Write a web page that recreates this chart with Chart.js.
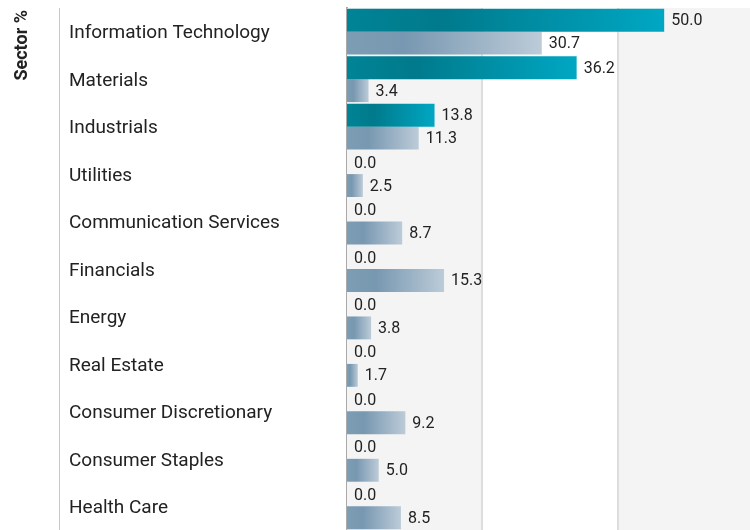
<!DOCTYPE html>
<html>
<head>
<meta charset="utf-8">
<script src="https://cdn.jsdelivr.net/npm/chart.js@4"></script>
<style>
  html, body { margin: 0; padding: 0; background: #fff; overflow: hidden; }
  #wrap { width: 753px; height: 530px; position: relative; }
</style>
</head>
<body>
<div id="wrap"><canvas id="chart"></canvas></div>
<script>
// Sector weights, fund vs benchmark
const sectors = [
    'Information Technology', 'Materials', 'Industrials', 'Utilities',
    'Communication Services', 'Financials', 'Energy', 'Real Estate',
    'Consumer Discretionary', 'Consumer Staples', 'Health Care'
];
const fundWeights = [50.0, 36.2, 13.8, 0.0, 0.0, 0.0, 0.0, 0.0, 0.0, 0.0, 0.0];
const benchWeights = [30.7, 3.4, 11.3, 2.5, 8.7, 15.3, 3.8, 1.7, 9.2, 5.0, 8.5];
const gridTicks = [0, 64 / 3, 128 / 3, 64];
const axisTitle = 'Sector %';

const textColor = '#222';

// gradient along the bar, from base to its end
function barGradient(stops) {
    return (c) => {
        const chart = c.chart;
        const fallback = stops[stops.length - 1][1];
        if (!chart.chartArea || !chart.scales.x) return fallback;
        const x0 = chart.scales.x.getPixelForValue(0);
        const x1 = chart.scales.x.getPixelForValue(c.raw);
        if (!(x1 > x0 + 1)) return fallback;
        const g = chart.ctx.createLinearGradient(x0, 0, x1, 0);
        stops.forEach(s => g.addColorStop(s[0], s[1]));
        return g;
    };
}

// alternating bands, grid lines, separator and rotated title
const backdropPlugin = {
    id: 'backdrop',
    beforeDatasetsDraw: (chart) => {
        const {ctx, chartArea, scales} = chart;
        const x = scales.x;
        ctx.save();
        for (let i = 0; i < gridTicks.length - 1; i++) {
            const a = x.getPixelForValue(gridTicks[i]);
            const b = x.getPixelForValue(gridTicks[i + 1]);
            ctx.fillStyle = i % 2 === 0 ? '#f4f4f4' : '#ffffff';
            ctx.fillRect(a, chartArea.top, b - a, chartArea.bottom - chartArea.top);
        }
        ctx.strokeStyle = '#dddddd';
        ctx.lineWidth = 2;
        for (let i = 1; i < gridTicks.length - 1; i++) {
            const px = Math.round(x.getPixelForValue(gridTicks[i]));
            ctx.beginPath();
            ctx.moveTo(px, chartArea.top);
            ctx.lineTo(px, chartArea.bottom);
            ctx.stroke();
        }
        ctx.restore();
    },
    afterDraw: (chart) => {
        const {ctx, chartArea} = chart;
        ctx.save();
        ctx.strokeStyle = '#c8c8c8';
        ctx.lineWidth = 1;
        ctx.beginPath();
        ctx.moveTo(59.5, chartArea.top);
        ctx.lineTo(59.5, chart.height);
        ctx.stroke();

        ctx.translate(22, chartArea.top + 2);
        ctx.rotate(-Math.PI / 2);
        ctx.font = 'bold 18px Roboto';
        ctx.fillStyle = textColor;
        ctx.textAlign = 'right';
        ctx.textBaseline = 'middle';
        ctx.fillText(axisTitle, 0, 0);
        ctx.restore();
    }
};

// value labels at the end of each bar
const valueLabels = {
    id: 'valueLabels',
    afterDatasetsDraw: (chart) => {
        const {ctx} = chart;
        ctx.save();
        ctx.font = '16px Roboto';
        ctx.fillStyle = textColor;
        ctx.textAlign = 'left';
        ctx.textBaseline = 'middle';
        chart.data.datasets.forEach((ds, di) => {
            const meta = chart.getDatasetMeta(di);
            meta.data.forEach((bar, i) => {
                const v = ds.data[i];
                ctx.fillText(v.toFixed(1), bar.x + 7, bar.y + 1);
            });
        });
        ctx.restore();
    }
};

new Chart(document.getElementById('chart'), {
    type: 'bar',
    data: {
        labels: sectors,
        datasets: [{
            label: 'Fund',
            data: fundWeights,
            backgroundColor: barGradient([[0, '#008496'], [0.3, '#007a8c'], [1, '#00a7c3']]),
            borderWidth: 0,
            barPercentage: 1.0,
            categoryPercentage: 0.965
        }, {
            label: 'Benchmark',
            data: benchWeights,
            backgroundColor: barGradient([[0, '#7d9db4'], [0.3, '#7898b1'], [1, '#bccbd8']]),
            borderWidth: 0,
            barPercentage: 1.0,
            categoryPercentage: 0.965
        }]
    },
    options: {
        indexAxis: 'y',
        responsive: true,
        maintainAspectRatio: false,
        animation: false,
        layout: { padding: { left: 69, top: 8, right: 0, bottom: 0 } },
        scales: {
            x: {
                display: false,
                min: 0,
                max: 64
            },
            y: {
                afterFit: (scale) => {
                    scale.width = 347 - 69;
                    scale.paddingTop = 0;
                    scale.paddingBottom = 0;
                },
                grid: { display: false, drawTicks: false },
                border: { display: true, color: '#aaaaaa', width: 2 },
                ticks: {
                    crossAlign: 'far',
                    color: textColor,
                    font: { family: 'Roboto', size: 19 },
                    padding: 0,
                    labelOffset: 2
                }
            }
        },
        plugins: {
            legend: { display: false },
            tooltip: { enabled: false }
        }
    },
    plugins: [backdropPlugin, valueLabels]
});
</script>
</body>
</html>
